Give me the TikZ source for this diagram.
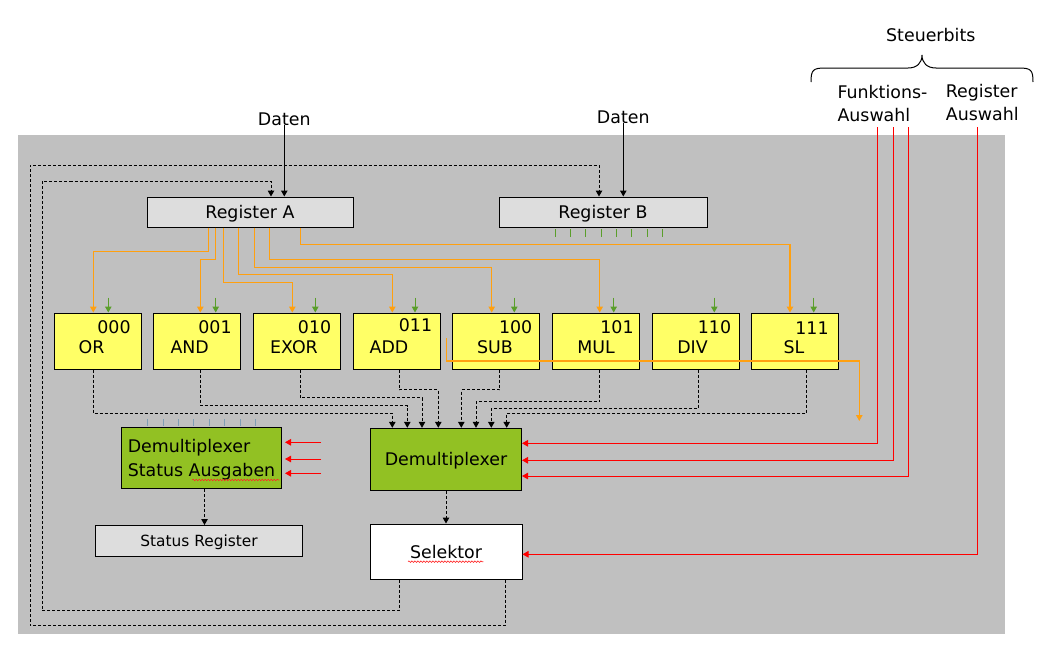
\documentclass[tikz,border=0pt]{standalone}
\usepackage{fontspec}
\setmainfont{DejaVu Sans}
\usetikzlibrary{arrows.meta,decorations.pathmorphing}
\definecolor{bggray}{HTML}{C0C0C0}
\definecolor{reggray}{HTML}{DDDDDD}
\definecolor{opyellow}{HTML}{FFFF66}
\definecolor{dmxgreen}{HTML}{92C123}
\definecolor{linorange}{HTML}{FFA010}
\definecolor{argreen}{HTML}{5A9E2A}
\definecolor{tickblue}{HTML}{7F9FB4}
\begin{document}
\begin{tikzpicture}
    	[x=1pt, y=-1pt, >={Triangle[width=6.5pt,length=6pt]},
    	 font=\fontsize{17.4}{23.5}\selectfont,
    	 regbox/.style={rectangle, draw, line width=1pt, fill=reggray, minimum width=206pt, minimum height=30pt, inner sep=0pt, text depth=0pt},
    	 opbox/.style={rectangle, draw, line width=1pt, fill=opyellow, minimum width=87pt, minimum height=56pt},
    	 dmxbox/.style={rectangle, draw, line width=1pt, fill=dmxgreen, inner sep=0pt},
    	 txt/.style={anchor=base, inner sep=0pt},
    	 orng/.style={draw=linorange, line width=1.2pt},
    	 grn/.style={draw=argreen, line width=1pt},
    	 rd/.style={draw=red, line width=1pt},
    	 blk/.style={draw=black, line width=1pt},
    	 dsh/.style={draw=black, line width=1pt, dash pattern=on 3pt off 2pt},
    	 tck/.style={line width=1pt},
    	 squig/.style={draw=red!85, line width=0.6pt, decorate, decoration={snake, segment length=3pt, amplitude=0.8pt}}]
    	
    	\useasboundingbox (0,0) rectangle (1058,648);
    	\fill[bggray] (18,135) rectangle (1005,634);
    	
    	\node[txt] (datenA) at (284.3,125) {Daten};
    	\node[txt] (datenB) at (623.3,123.3) {Daten};
    	\node[txt] (steuer) at (930.8,41.7) {Steuerbits};
    	\node[anchor=north west, align=left, inner sep=0pt] (funk) at (837.3,85) {Funktions-\\Auswahl};
    	\node[anchor=north west, align=left, inner sep=0pt] (regsel) at (945.7,84) {Register\\Auswahl};
    	\draw[line width=1pt] (811,82) .. controls (811,70) and (813,68) .. (825,68) -- (908,68)
    	    .. controls (917,68) and (922,63) .. (922,55) .. controls (922,63) and (927,68) .. (936,68)
    	    -- (1019,68) .. controls (1031,68) and (1033,70) .. (1033,82);
    	
    	\node[regbox] (regA) at (250,212) {Register A};
    	\node[regbox, minimum width=208pt] (regB) at (603,212) {Register B};
    	
    	\node[opbox] (fOR) at (98,341) {};
    	\node[opbox] (fAND) at (197.3,341) {};
    	\node[opbox] (fEXOR) at (297.3,341) {};
    	\node[opbox] (fADD) at (396.8,341) {};
    	\node[opbox] (fSUB) at (496.3,341) {};
    	\node[opbox] (fMUL) at (596.3,341) {};
    	\node[opbox] (fDIV) at (695.8,341) {};
    	\node[opbox] (fSL) at (795.3,341) {};
    	
    	\node[txt] (cOR) at (114,333) {000};
    	\node[txt] (cAND) at (215,333) {001};
    	\node[txt] (cEXOR) at (314.6,333) {010};
    	\node[txt] (cADD) at (415.5,331) {011};
    	\node[txt] (cSUB) at (515.7,333) {100};
    	\node[txt] (cMUL) at (617,333.5) {101};
    	\node[txt] (cDIV) at (714.5,333) {110};
    	\node[txt] (cSL) at (812,334.5) {111};
    	
    	\node[txt] (nOR) at (91.5,353) {OR};
    	\node[txt] (nAND) at (189.7,353) {AND};
    	\node[txt] (nEXOR) at (294,353) {EXOR};
    	\node[txt] (nADD) at (389,353) {ADD};
    	\node[txt] (nSUB) at (495,353) {SUB};
    	\node[txt] (nMUL) at (596,353) {MUL};
    	\node[txt] (nDIV) at (692.5,353) {DIV};
    	\node[txt] (nSL) at (794,353) {SL};
    	
    	\node[dmxbox, minimum width=160pt, minimum height=61pt, align=left, text depth=0pt] (sdmx) at (201.5,457.8) {Demultiplexer\\Status Ausgaben};
    	\node[dmxbox, minimum width=151pt, minimum height=62pt, text depth=0pt] (dmx) at (446,459.3) {Demultiplexer};
    	\node[regbox, minimum width=207pt, minimum height=31pt, font=\fontsize{15.4}{18}\selectfont] (sreg) at (199,541) {Status Register};
    	\node[regbox, fill=white, minimum width=152pt, minimum height=55pt] (sel) at (446,551.5) {Selektor};
    	
    	\draw[squig] (192.3,480) -- (279.3,480);
    	\draw[squig] (408,561.7) -- (483.3,561.7);
    	
    	\draw[blk, ->] (datenA.base) -- (datenA.base |- regA.north);
    	\draw[blk, ->] (datenB.base) -- (datenB.base |- regB.north);
    	
    	\draw[draw=argreen, tck] (555.3,229) -- ++(0,8) (570.6,229) -- ++(0,8) (585.9,229) -- ++(0,8) (601.2,229) -- ++(0,8)
    	    (616.5,229) -- ++(0,8) (631.8,229) -- ++(0,8) (647.1,229) -- ++(0,8) (662.4,229) -- ++(0,8);
    	\draw[draw=tickblue, tck] (147.7,419) -- ++(0,7) (163.1,419) -- ++(0,7) (178.5,419) -- ++(0,7) (193.9,419) -- ++(0,7)
    	    (209.3,419) -- ++(0,7) (224.7,419) -- ++(0,7) (240.1,419) -- ++(0,7) (255.5,419) -- ++(0,7);
    	
    	\draw[orng, ->] ([xshift=-41.3pt]regA.south) -- ++(0,24.3) -| ([xshift=-4.7pt]fOR.north);
    	\draw[orng, ->] ([xshift=-34.3pt]regA.south) -- ++(0,32.3) -| ([xshift=3pt]fAND.north);
    	\draw[orng, ->] ([xshift=-26.7pt]regA.south) -- ++(0,55.3) -| ([xshift=-5pt]fEXOR.north);
    	\draw[orng, ->] ([xshift=-11.5pt]regA.south) -- ++(0,47.3) -| ([xshift=-4.5pt]fADD.north);
    	\draw[orng, ->] ([xshift=4.3pt]regA.south) -- ++(0,40) -| ([xshift=-4.6pt]fSUB.north);
    	\draw[orng, ->] ([xshift=19.3pt]regA.south) -- ++(0,32.3) -| ([xshift=3.4pt]fMUL.north);
    	\draw[orng, ->] ([xshift=50.3pt]regA.south) -- ++(0,17) -| ([xshift=-5.3pt]fSL.north);
    	
    	\draw[grn, ->] ([xshift=10.3pt,yshift=15pt]fOR.north) -- ([xshift=10.3pt]fOR.north);
    	\draw[grn, ->] ([xshift=18.4pt,yshift=15pt]fAND.north) -- ([xshift=18.4pt]fAND.north);
    	\draw[grn, ->] ([xshift=18pt,yshift=15pt]fEXOR.north) -- ([xshift=18pt]fEXOR.north);
    	\draw[grn, ->] ([xshift=18.2pt,yshift=15pt]fADD.north) -- ([xshift=18.2pt]fADD.north);
    	\draw[grn, ->] ([xshift=18pt,yshift=15pt]fSUB.north) -- ([xshift=18pt]fSUB.north);
    	\draw[grn, ->] ([xshift=17.4pt,yshift=15pt]fMUL.north) -- ([xshift=17.4pt]fMUL.north);
    	\draw[grn, ->] ([xshift=18.5pt,yshift=15pt]fDIV.north) -- ([xshift=18.5pt]fDIV.north);
    	\draw[grn, ->] ([xshift=18.4pt,yshift=15pt]fSL.north) -- ([xshift=18.4pt]fSL.north);
    	
    	\coordinate (oend) at (859.3,421);
    	\draw[orng, ->] ([xshift=5.7pt,yshift=3pt]fADD.east) -- ++(0,23) -| (oend);
    	
    	\draw[dsh, ->] ([xshift=-4.7pt]fOR.south) -- ++(0,43.7) -| ([xshift=-53.7pt]dmx.north);
    	\draw[dsh, ->] ([xshift=3.4pt]fAND.south) -- ++(0,36) -| ([xshift=-38.7pt]dmx.north);
    	\draw[dsh, ->] ([xshift=3pt]fEXOR.south) -- ++(0,28.3) -| ([xshift=-24pt]dmx.north);
    	\draw[dsh, ->] ([xshift=2.5pt]fADD.south) -- ++(0,20.3) -| ([xshift=-7.7pt]dmx.north);
    	\draw[dsh, ->] ([xshift=3pt]fSUB.south) -- ++(0,20.3) -| ([xshift=15.3pt]dmx.north);
    	\draw[dsh, ->] ([xshift=3.4pt]fMUL.south) -- ++(0,32) -| ([xshift=30pt]dmx.north);
    	\draw[dsh, ->] ([xshift=2.5pt]fDIV.south) -- ++(0,38.7) -| ([xshift=45.3pt]dmx.north);
    	\draw[dsh, ->] ([xshift=11.4pt]fSL.south) -- ++(0,43.7) -| ([xshift=60.7pt]dmx.north);
    	
    	\draw[dsh, ->] ([xshift=3pt]sdmx.south) -- ([xshift=3pt]sdmx.south |- sreg.north);
    	\draw[dsh, ->] (dmx) -- (sel);
    	\draw[dsh, ->] ([xshift=-47pt]sel.south) -- ++(0,31) -| (42,181) -| ([xshift=21pt]regA.north);
    	\draw[dsh, ->] ([xshift=59pt]sel.south) -- ++(0,46) -| (30,165) -| ([xshift=-4pt]regB.north);
    	
    	\coordinate (f1) at (877.3,127);
    	\coordinate (f2) at (893.3,127);
    	\coordinate (f3) at (908,127);
    	\coordinate (r1) at (977.5,127);
    	\draw[rd, ->] (f1) |- ([yshift=16pt]dmx.east);
    	\draw[rd, ->] (f2) |- ([yshift=-1pt]dmx.east);
    	\draw[rd, ->] (f3) |- ([yshift=-16.7pt]dmx.east);
    	\draw[rd, ->] (r1) |- ([yshift=-2.8pt]sel.east);
    	
    	\draw[rd, ->] ([xshift=39pt,yshift=15.5pt]sdmx.east) -- ([xshift=3pt,yshift=15.5pt]sdmx.east);
    	\draw[rd, ->] ([xshift=39pt,yshift=-1.2pt]sdmx.east) -- ([xshift=3pt,yshift=-1.2pt]sdmx.east);
    	\draw[rd, ->] ([xshift=39pt,yshift=-15.5pt]sdmx.east) -- ([xshift=3pt,yshift=-15.5pt]sdmx.east);
    \end{tikzpicture}
\end{document}
